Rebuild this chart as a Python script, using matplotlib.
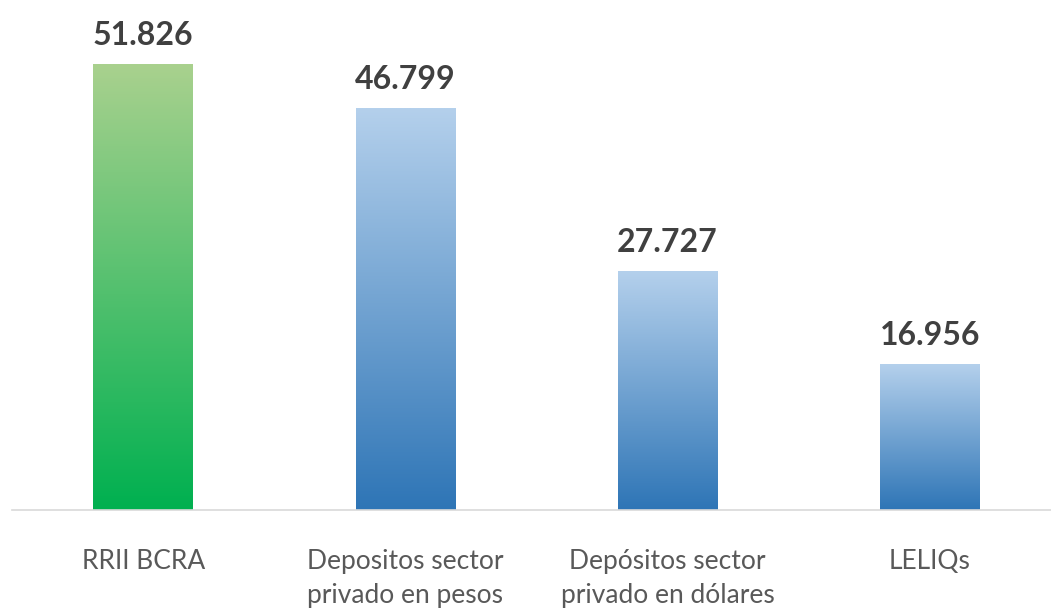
import matplotlib.pyplot as plt
import numpy as np
from matplotlib.colors import LinearSegmentedColormap

categories = ["RRII BCRA", "Depositos sector\nprivado en pesos",
              "Depósitos sector\nprivado en dólares", "LELIQs"]
values = [51.826, 46.799, 27.727, 16.956]
labels = ["51.826", "46.799", "27.727", "16.956"]

plt.rcParams['font.family'] = ['Lato', 'DejaVu Sans']

fig = plt.figure(figsize=(10.51, 6.10), dpi=100)
ax = fig.add_axes([12 / 1051, 100 / 610, 1049 / 1051, 500 / 610])

x = np.arange(len(categories))
bars = ax.bar(x, values, width=0.38, color="none")

green = LinearSegmentedColormap.from_list("g", ["#00b050", "#a9d18e"])
blue = LinearSegmentedColormap.from_list("b", ["#2e75b6", "#b4d0ec"])
grad = np.linspace(0, 1, 256).reshape(-1, 1)

for i, b in enumerate(bars):
    cmap = green if i == 0 else blue
    x0, w, h = b.get_x(), b.get_width(), b.get_height()
    ax.imshow(grad, cmap=cmap, origin="lower", aspect="auto",
              extent=[x0, x0 + w, 0, h], zorder=2)
    ax.text(b.get_x() + w / 2, h + 1.7, labels[i], ha="center", va="bottom",
            fontsize=23, fontweight="bold", color="#404040")

ax.set_xlim(-0.5, len(categories) - 0.5)
ax.set_ylim(0, 500 / 8.587)
ax.set_xticks(x)
ax.set_xticklabels(categories, fontsize=19, color="#595959", linespacing=1.45)
ax.tick_params(axis="x", length=0, pad=28)
ax.set_yticks([])
for s in ["top", "right", "left"]:
    ax.spines[s].set_visible(False)
ax.spines["bottom"].set_color("#d9d9d9")
ax.spines["bottom"].set_linewidth(1.2)

fig.savefig("out.png", dpi=100)
